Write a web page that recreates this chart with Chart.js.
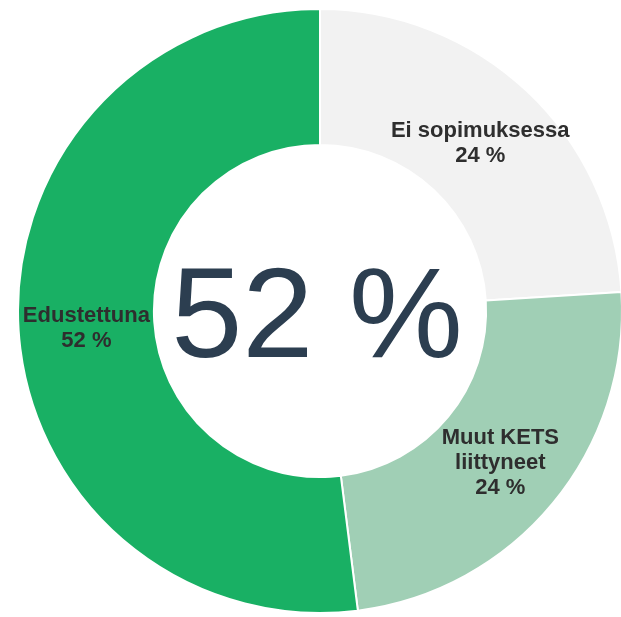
<!DOCTYPE html>
<html>
<head>
<meta charset="utf-8">
<script src="https://cdn.jsdelivr.net/npm/chart.js@4.4.0/dist/chart.umd.min.js"></script>
<style>
    html, body { margin: 0; padding: 0; background: #fff; overflow: hidden; }
    #wrap { position: relative; width: 640px; height: 617px; }
</style>
</head>
<body>
<div id="wrap"><canvas id="donut"></canvas></div>
<script>
// DATA
const categories = ["Ei sopimuksessa", ["Muut KETS", "liittyneet"], "Edustettuna"];
const values = [24, 24, 52];
const sliceColors = ["#f2f2f2", "#a0cfb5", "#19b064"];
const centerValue = 52;

// PLUGIN: SLICE LABELS + CENTER TEXT
const sliceLabelPlugin = {
    id: "sliceLabels",
    afterDatasetsDraw: (chart) => {
        const { ctx } = chart;
        const meta = chart.getDatasetMeta(0);

        ctx.save();
        ctx.textAlign = "center";
        ctx.textBaseline = "middle";
        ctx.font = "bold 22px 'Liberation Sans', Arial, sans-serif";
        ctx.fillStyle = "#2e2e2e";

        const lineH = 25;
        meta.data.forEach((arc, i) => {
            const pos = arc.tooltipPosition();
            const name = categories[i];
            const lines = (Array.isArray(name) ? name : [name]).concat(values[i] + " %");
            const top = pos.y - ((lines.length - 1) * lineH) / 2 + 3;
            lines.forEach((line, j) => {
                ctx.fillText(line, pos.x, top + j * lineH);
            });
        });

        // big number in the middle
        const cx = meta.data[0].x;
        const cy = meta.data[0].y;
        ctx.font = "128px 'Liberation Sans', Arial, sans-serif";
        ctx.fillStyle = "#2c3e50";
        ctx.fillText(centerValue + " %", cx - 3, cy + 11);
        ctx.restore();
    },
};

const ctx1 = document.getElementById("donut").getContext("2d");
new Chart(ctx1, {
    type: "doughnut",
    plugins: [sliceLabelPlugin],
    data: {
        labels: categories,
        datasets: [
            {
                data: values,
                backgroundColor: sliceColors,
                borderColor: "#ffffff",
                borderWidth: 2,
            },
        ],
    },
    options: {
        responsive: true,
        maintainAspectRatio: false,
        animation: false,
        layout: {
            padding: { top: 8, bottom: 3, left: 17, right: 17 },
        },
        cutout: "55%",
        plugins: {
            legend: { display: false },
            tooltip: { enabled: false },
        },
    },
});
</script>
</body>
</html>
